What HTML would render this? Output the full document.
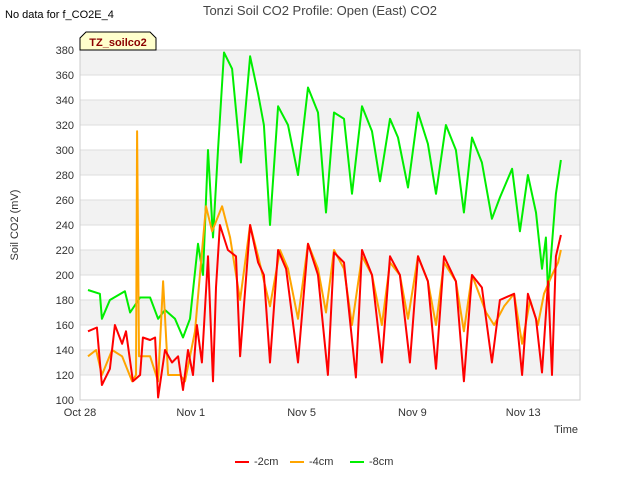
<!DOCTYPE html>
<html><head><meta charset="utf-8"><style>
body{margin:0;background:#fff;font-family:"Liberation Sans","DejaVu Sans",sans-serif}
</style></head><body>
<svg id="chart" width="640" height="480" xmlns="http://www.w3.org/2000/svg" font-family="Liberation Sans, DejaVu Sans, sans-serif">
<rect width="640" height="480" fill="#fff"/>
<text x="5" y="18" font-size="11" fill="#000">No data for f_CO2E_4</text>
<text x="320" y="15" font-size="13" fill="#444" text-anchor="middle">Tonzi Soil CO2 Profile: Open (East) CO2</text>
<g id="bands"></g>
<g id="grid"></g>
<rect x="80" y="50" width="500" height="350" fill="none" stroke="#ccc"/>
<g id="series"></g>
<g id="axes"></g>
<text transform="translate(18,225) rotate(-90)" font-size="11" fill="#333" text-anchor="middle">Soil CO2 (mV)</text>
<text x="578" y="433" font-size="11" fill="#333" text-anchor="end">Time</text>
<g>
<path d="M80,50 L80,38 L86,32 L150,32 L156,38 L156,50 Z" fill="#ffffcc" stroke="#000" stroke-width="1"/>
<text x="118" y="46" font-size="11" font-weight="bold" fill="#8b0000" text-anchor="middle">TZ_soilco2</text>
</g>
<g id="legend"></g>
</svg>
<script>
const yTicks=[100,120,140,160,180,200,220,240,260,280,300,320,340,360,380];
const xTickDays=[0,4,8,12,16];
const xTickLabels=["Oct 28","Nov 1","Nov 5","Nov 9","Nov 13"];
const seriesNames=["-2cm","-4cm","-8cm"];
const seriesColors=["#ff0000","#ffa500","#00ee00"];
const t2=[.29,.61,.79,1.08,1.26,1.52,1.66,1.91,2.17,2.27,2.53,2.71,2.82,3.07,3.32,3.54,3.72,3.9,4.08,4.22,4.4,4.62,4.8,4.91,5.05,5.34,5.63,5.78,6.14,6.43,6.64,6.86,7.15,7.44,7.87,8.23,8.59,8.95,9.17,9.53,9.96,10.18,10.54,10.9,11.19,11.55,11.91,12.2,12.56,12.85,13.14,13.57,13.86,14.15,14.51,14.87,15.16,15.67,15.96,16.17,16.46,16.68,16.9,17.04,17.18,17.36];
const v2=[155,158,112,125,160,145,155,115,120,150,148,150,102,140,130,135,108,140,120,160,130,215,115,190,240,220,215,135,240,210,200,130,220,205,130,225,200,120,218,210,118,220,200,130,215,200,130,215,195,125,215,195,115,200,190,130,180,185,120,185,165,122,195,120,215,232];
const t4=[.29,.58,.79,1.16,1.52,1.88,2.02,2.06,2.13,2.53,2.82,3.0,3.18,3.61,3.79,4.15,4.33,4.55,4.77,5.13,5.42,5.78,6.14,6.43,6.86,7.22,7.51,7.87,8.23,8.59,8.88,9.17,9.53,9.82,10.18,10.54,10.9,11.19,11.55,11.84,12.2,12.56,12.85,13.14,13.57,13.86,14.15,14.66,14.95,15.31,15.67,15.96,16.25,16.53,16.75,17.04,17.26,17.36];
const v4=[135,140,120,140,135,115,120,315,135,135,115,195,120,120,115,155,200,255,235,255,230,180,240,215,175,220,205,165,225,205,170,220,205,160,215,200,160,210,200,165,215,195,160,210,195,155,200,170,160,175,185,145,180,160,185,200,210,220];
const t8=[.29,.72,.79,1.08,1.62,1.81,2.17,2.53,2.82,3.07,3.43,3.72,3.97,4.26,4.44,4.62,4.8,4.98,5.2,5.49,5.81,6.14,6.43,6.64,6.86,7.15,7.51,7.87,8.23,8.59,8.88,9.17,9.53,9.82,10.18,10.54,10.83,11.19,11.48,11.84,12.2,12.56,12.85,13.21,13.57,13.86,14.15,14.51,14.87,15.16,15.6,15.88,16.17,16.46,16.68,16.82,16.9,17.18,17.36];
const v8=[188,185,165,180,187,170,182,182,165,172,165,150,165,225,200,300,230,300,378,365,290,375,345,320,240,335,320,280,350,330,250,330,325,265,335,315,275,325,310,270,330,305,265,320,300,250,310,290,245,262,285,235,280,250,205,230,185,265,292];
const X0=80,X1=580,Y0=400,Y1=50,DAYS=18.05;
const xs=d=>X0+d*(X1-X0)/DAYS;
const ys=v=>Y0-(v-100)*(Y0-Y1)/280;
const NS="http://www.w3.org/2000/svg";
function mk(tag,attrs,parent){const e=document.createElementNS(NS,tag);for(const k in attrs)e.setAttribute(k,attrs[k]);parent.appendChild(e);return e;}
const bands=document.getElementById('bands'),grid=document.getElementById('grid'),axes=document.getElementById('axes'),ser=document.getElementById('series'),leg=document.getElementById('legend');
for(let i=0;i<yTicks.length-1;i++){
  if((yTicks.length-2-i)%2===0){
    const r=mk('rect',{x:X0,y:ys(yTicks[i+1]),width:X1-X0,height:ys(yTicks[i])-ys(yTicks[i+1]),fill:'#f2f2f2'},bands);
    
    
  }
}
yTicks.forEach(v=>{
  const l=mk('line',{x1:X0,x2:X1,y1:ys(v),y2:ys(v),stroke:'#ddd'},grid);
  
  
  const t=mk('text',{x:X0-6,y:ys(v)+4,'font-size':11,fill:'#333','text-anchor':'end'},axes);
  
  
  t.textContent=v;
});
xTickDays.forEach((d,i)=>{
  const t=mk('text',{x:xs(d),y:Y0+16,'font-size':11,fill:'#333','text-anchor':'middle'},axes);
  
  
  t.textContent=xTickLabels[i];
});
const allT=[t2,t4,t8],allV=[v2,v4,v8];
[2,1,0].forEach(s=>{
  const p=allT[s].map((d,i)=>xs(d).toFixed(1)+','+ys(allV[s][i]).toFixed(1)).join(' ');
  const pl=mk('polyline',{points:p,fill:'none',stroke:seriesColors[s],'stroke-width':2,'stroke-linejoin':'round'},ser);
  
  
});
const lx=[235,290,350];
seriesNames.forEach((n,i)=>{
  const g=mk('g',{},leg);
  
  
  mk('line',{x1:lx[i],x2:lx[i]+14,y1:462,y2:462,stroke:seriesColors[i],'stroke-width':2},g);
  const t=mk('text',{x:lx[i]+19,y:465,'font-size':11,fill:'#333'},g);
  t.textContent=n;
});
</script>
</body></html>
